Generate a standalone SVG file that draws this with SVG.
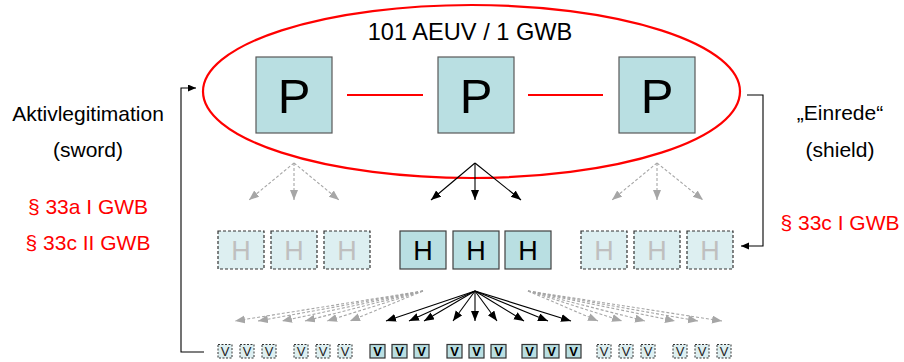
<svg xmlns="http://www.w3.org/2000/svg" width="904" height="362" viewBox="0 0 904 362">
<style>
text{font-family:"Liberation Sans",Arial,sans-serif;text-anchor:middle}
.lbl{font-size:21px;fill:#000}
.red{font-size:21px;fill:#FF0000}
.pbox{fill:#B9DFE2;stroke:#595959;stroke-width:1.2}
.pt{font-size:49px;fill:#000}
.hbox{fill:#B9DFE2;stroke:#404040;stroke-width:1.2}
.hdash{fill:#DDEFF1;stroke:#333;stroke-width:1.2;stroke-dasharray:3,2}
.ht{font-size:27px;fill:#000}
.htg{font-size:27px;fill:#BFBFBF}
.vbox{fill:#B9DFE2;stroke:#333;stroke-width:1.2}
.vdash{fill:#DDEFF1;stroke:#333;stroke-width:1;stroke-dasharray:2,1.5}
.vt{font-size:13px;font-weight:bold;fill:#000}
.vtg{font-size:13px;fill:#222}
.blk{stroke:#000;stroke-width:1.1;fill:none;marker-end:url(#ab)}
.gry{stroke:#A6A6A6;stroke-width:1.1;fill:none;stroke-dasharray:3,2;marker-end:url(#ag)}
.conn{stroke:#000;stroke-width:1.1;fill:none;marker-end:url(#ac)}
.redl{stroke:#FF0000;stroke-width:2;fill:none}
</style>
<defs>
<marker id="ab" markerUnits="userSpaceOnUse" markerWidth="11" markerHeight="9" refX="10" refY="4" orient="auto"><path d="M0,0 L10,4 L0,8 z" fill="#000"/></marker>
<marker id="ag" markerUnits="userSpaceOnUse" markerWidth="11" markerHeight="9" refX="10" refY="4" orient="auto"><path d="M0,0 L10,4 L0,8 z" fill="#A6A6A6"/></marker>
<marker id="ac" markerUnits="userSpaceOnUse" markerWidth="9" markerHeight="8" refX="8" refY="3.5" orient="auto"><path d="M0,0 L8,3.5 L0,7 z" fill="#000"/></marker>
</defs>

<g id="group-ellipse">
<ellipse cx="471.5" cy="91.5" rx="268.5" ry="86.5" fill="none" stroke="#FF0000" stroke-width="2.2"/>
<text x="470" y="39.5" style="font-size:23.6px">101 AEUV / 1 GWB</text>
</g>

<g id="left-labels">
<text class="lbl" x="88" y="120.5">Aktivlegitimation</text>
<text class="lbl" x="88" y="157">(sword)</text>
<text class="red" x="88" y="213.5">§ 33a I GWB</text>
<text class="red" x="88" y="250">§ 33c II GWB</text>
</g>
<g id="right-labels">
<text class="lbl" x="840" y="120">„Einrede“</text>
<text class="lbl" x="840" y="157">(shield)</text>
<text class="red" x="840" y="230">§ 33c I GWB</text>
</g>

<g id="P1"><rect class="pbox" x="256" y="57" width="76" height="76"/><text class="pt" x="294" y="113">P</text></g>
<g id="P2"><rect class="pbox" x="438" y="57" width="76" height="76"/><text class="pt" x="476" y="113">P</text></g>
<g id="P3"><rect class="pbox" x="619" y="57" width="76" height="76"/><text class="pt" x="657" y="113">P</text></g>

<g id="H-left">
<rect class="hdash" x="218" y="231" width="46" height="38"/><text class="htg" x="241" y="260">H</text>
<rect class="hdash" x="271" y="231" width="46" height="38"/><text class="htg" x="294" y="260">H</text>
<rect class="hdash" x="324" y="231" width="46" height="38"/><text class="htg" x="347" y="260">H</text>
</g>
<g id="H-mid">
<rect class="hbox" x="400" y="231" width="46" height="38"/><text class="ht" x="423" y="260">H</text>
<rect class="hbox" x="453" y="231" width="46" height="38"/><text class="ht" x="476" y="260">H</text>
<rect class="hbox" x="505" y="231" width="46" height="38"/><text class="ht" x="528" y="260">H</text>
</g>
<g id="H-right">
<rect class="hdash" x="581" y="231" width="46" height="38"/><text class="htg" x="604" y="260">H</text>
<rect class="hdash" x="634" y="231" width="46" height="38"/><text class="htg" x="657" y="260">H</text>
<rect class="hdash" x="687" y="231" width="46" height="38"/><text class="htg" x="710" y="260">H</text>
</g>

<g id="V-left">
<rect class="vdash" x="218" y="344.5" width="14" height="13.5"/><text class="vtg" x="225" y="356">V</text>
<rect class="vdash" x="240" y="344.5" width="14" height="13.5"/><text class="vtg" x="247" y="356">V</text>
<rect class="vdash" x="262" y="344.5" width="14" height="13.5"/><text class="vtg" x="269" y="356">V</text>
<rect class="vdash" x="294" y="344.5" width="14" height="13.5"/><text class="vtg" x="301" y="356">V</text>
<rect class="vdash" x="316" y="344.5" width="14" height="13.5"/><text class="vtg" x="323" y="356">V</text>
<rect class="vdash" x="338" y="344.5" width="14" height="13.5"/><text class="vtg" x="345" y="356">V</text>
</g>
<g id="V-mid">
<rect class="vbox" x="370" y="344.5" width="15" height="13.5"/><text class="vt" x="377.5" y="356">V</text>
<rect class="vbox" x="392" y="344.5" width="15" height="13.5"/><text class="vt" x="399.5" y="356">V</text>
<rect class="vbox" x="414" y="344.5" width="15" height="13.5"/><text class="vt" x="421.5" y="356">V</text>
<rect class="vbox" x="447" y="344.5" width="15" height="13.5"/><text class="vt" x="454.5" y="356">V</text>
<rect class="vbox" x="469" y="344.5" width="15" height="13.5"/><text class="vt" x="476.5" y="356">V</text>
<rect class="vbox" x="491" y="344.5" width="15" height="13.5"/><text class="vt" x="498.5" y="356">V</text>
<rect class="vbox" x="522" y="344.5" width="15" height="13.5"/><text class="vt" x="529.5" y="356">V</text>
<rect class="vbox" x="544" y="344.5" width="15" height="13.5"/><text class="vt" x="551.5" y="356">V</text>
<rect class="vbox" x="566" y="344.5" width="15" height="13.5"/><text class="vt" x="573.5" y="356">V</text>
</g>
<g id="V-right">
<rect class="vdash" x="597" y="344.5" width="14" height="13.5"/><text class="vtg" x="604" y="356">V</text>
<rect class="vdash" x="619" y="344.5" width="14" height="13.5"/><text class="vtg" x="626" y="356">V</text>
<rect class="vdash" x="641" y="344.5" width="14" height="13.5"/><text class="vtg" x="648" y="356">V</text>
<rect class="vdash" x="673" y="344.5" width="14" height="13.5"/><text class="vtg" x="680" y="356">V</text>
<rect class="vdash" x="695" y="344.5" width="14" height="13.5"/><text class="vtg" x="702" y="356">V</text>
<rect class="vdash" x="717" y="344.5" width="14" height="13.5"/><text class="vtg" x="724" y="356">V</text>
</g>

<g id="connectors">
<line class="redl" x1="347" y1="95" x2="423" y2="95"/>
<line class="redl" x1="528" y1="95" x2="603" y2="95"/>

<line class="gry" x1="294" y1="163" x2="249" y2="200"/>
<line class="gry" x1="294" y1="163" x2="294" y2="200"/>
<line class="gry" x1="294" y1="163" x2="339" y2="200"/>
<line class="blk" x1="475" y1="163" x2="431" y2="200"/>
<line class="blk" x1="475" y1="163" x2="475" y2="200"/>
<line class="blk" x1="475" y1="163" x2="521" y2="200"/>
<line class="gry" x1="657" y1="163" x2="612" y2="200"/>
<line class="gry" x1="657" y1="163" x2="657" y2="200"/>
<line class="gry" x1="657" y1="163" x2="703" y2="200"/>

<line class="gry" x1="423" y1="291" x2="235" y2="321"/>
<line class="gry" x1="423" y1="291" x2="258" y2="321"/>
<line class="gry" x1="423" y1="291" x2="282" y2="321"/>
<line class="gry" x1="423" y1="291" x2="305" y2="321"/>
<line class="gry" x1="423" y1="291" x2="327" y2="321"/>
<line class="gry" x1="423" y1="291" x2="350" y2="321"/>

<line class="blk" x1="475" y1="291" x2="386" y2="321"/>
<line class="blk" x1="475" y1="291" x2="409" y2="321"/>
<line class="blk" x1="475" y1="291" x2="424" y2="321"/>
<line class="blk" x1="475" y1="291" x2="453" y2="321"/>
<line class="blk" x1="475" y1="291" x2="475" y2="321"/>
<line class="blk" x1="475" y1="291" x2="497" y2="321"/>
<line class="blk" x1="475" y1="291" x2="524" y2="321"/>
<line class="blk" x1="475" y1="291" x2="548" y2="321"/>
<line class="blk" x1="475" y1="291" x2="571" y2="321"/>

<line class="gry" x1="528" y1="291" x2="598" y2="321"/>
<line class="gry" x1="528" y1="291" x2="622" y2="321"/>
<line class="gry" x1="528" y1="291" x2="645" y2="321"/>
<line class="gry" x1="528" y1="291" x2="675" y2="321"/>
<line class="gry" x1="528" y1="291" x2="698" y2="321"/>
<line class="gry" x1="528" y1="291" x2="722" y2="321"/>

<polyline class="conn" points="204,352 181,352 181,88 196,88"/>
<polyline class="conn" points="747,95 763,95 763,246 741,246"/>
</g>
</svg>
